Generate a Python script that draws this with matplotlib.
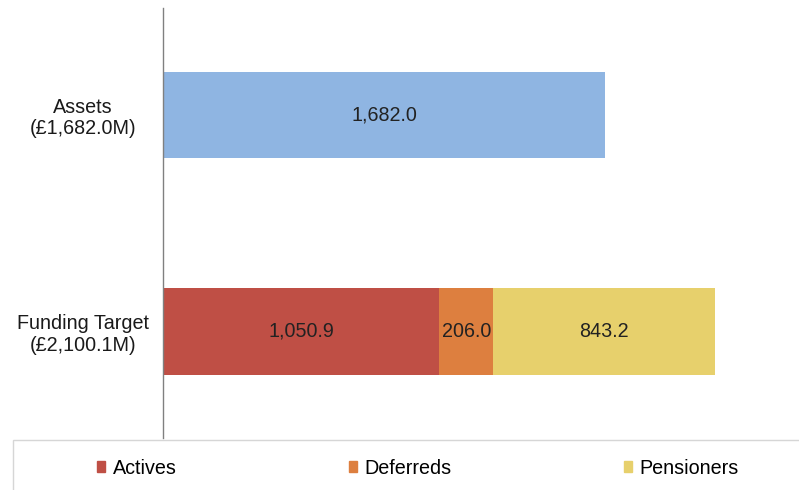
import matplotlib
matplotlib.use("Agg")
import matplotlib.pyplot as plt
import matplotlib.transforms as mtrans
from matplotlib.patches import Rectangle, Patch

categories = ["Funding Target\n(£2,100.1M)", "Assets\n(£1,682.0M)"]
assets = [0.0, 1682.0]
actives = [1050.9, 0.0]
deferreds = [206.0, 0.0]
pensioners = [843.2, 0.0]
series_names = ["Actives", "Deferreds", "Pensioners"]

plt.rcParams['font.family'] = ['Liberation Sans', 'DejaVu Sans']
W, H = 799, 490
fig = plt.figure(figsize=(W / 100, H / 100), dpi=100)
ax = fig.add_axes([163 / W, 1 - 438 / H, (W - 163) / W, (438 - 8) / H])

c_assets = '#8FB5E2'
c_act = '#BF4F45'
c_def = '#DD7F3F'
c_pen = '#E7D06C'
fs = 14.2

y = [0, 1]
h = 0.4
ax.barh(y[1], assets[1], height=h, color=c_assets)
ax.barh(y, actives, height=h, color=c_act)
left2 = [a for a in actives]
ax.barh(y, deferreds, left=left2, height=h, color=c_def)
left3 = [a + d for a, d in zip(actives, deferreds)]
ax.barh(y, pensioners, left=left3, height=h, color=c_pen)

def lab(x, yy, v):
    ax.text(x, yy, f"{v:,.1f}", ha='center', va='center', fontsize=fs, color='#222222')

lab(assets[1] / 2, 1, assets[1])
lab(actives[0] / 2, 0, actives[0])
lab(actives[0] + deferreds[0] / 2, 0, deferreds[0])
lab(left3[0] + pensioners[0] / 2, 0, pensioners[0])

ax.set_xlim(0, (W - 163) / 0.2628)
ax.set_ylim(-0.492, 1.494)
ax.set_yticks(y)
ax.set_yticklabels(categories, fontsize=fs, color='#1a1a1a', linespacing=1.15)
ax.set_xticks([])
ax.tick_params(axis='y', length=0, pad=0)
for s in ['top', 'right', 'bottom']:
    ax.spines[s].set_visible(False)
ax.spines['left'].set_color('#808080')
ax.spines['left'].set_linewidth(1.0)
offset = mtrans.ScaledTranslation(-(163 - 83) / 100, 0, fig.dpi_scale_trans)
for t in ax.get_yticklabels():
    t.set_horizontalalignment('center')
    t.set_transform(t.get_transform() + offset)

fig.add_artist(Rectangle((13 / W, -0.1), 1.0, (1 - 440 / H) + 0.1,
                         transform=fig.transFigure, fill=False,
                         edgecolor='#D6D6D6', linewidth=1.0))

handles = [Patch(color=c_act), Patch(color=c_def), Patch(color=c_pen)]
fig.legend(handles, series_names, loc='center', ncol=3,
           bbox_to_anchor=(418 / W, 1 - 468 / H), frameon=False,
           fontsize=fs, handlelength=0.42, handleheight=0.45,
           handletextpad=0.4, columnspacing=8.7, borderpad=0)

fig.savefig('out.png', dpi=100)
